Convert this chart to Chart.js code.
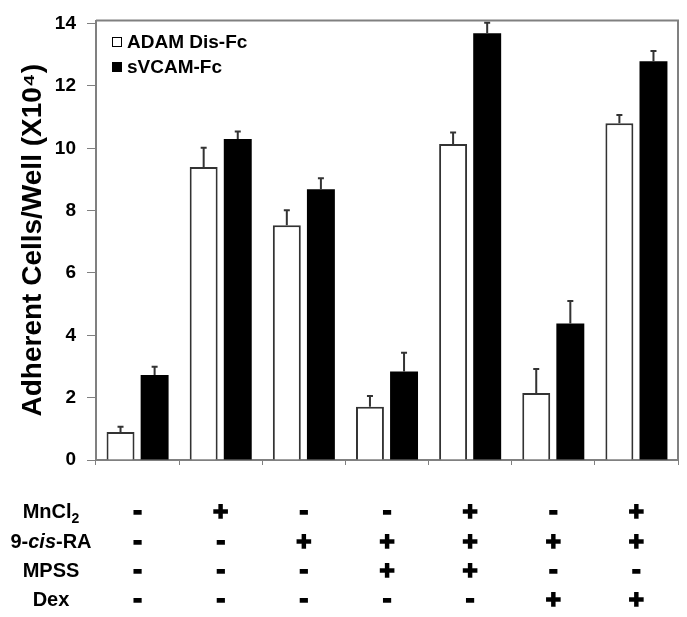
<!DOCTYPE html>
<html>
<head>
<meta charset="utf-8">
<script src="https://cdn.jsdelivr.net/npm/chart.js@4"></script>
<style>
  body { margin: 0; background: #fff; }
  canvas { display: block; }
</style>
</head>
<body>
<canvas id="myChart" width="687" height="617"></canvas>
<script>
/* data */
const categories = ['1', '2', '3', '4', '5', '6', '7'];
const seriesLabels = ['ADAM Dis-Fc', 'sVCAM-Fc'];
const adamValues = [0.9, 9.4, 7.53, 1.71, 10.14, 2.15, 10.8];
const adamErrors = [0.17, 0.62, 0.48, 0.34, 0.37, 0.77, 0.27];
const vcamValues = [2.73, 10.3, 8.69, 2.84, 13.69, 4.38, 12.79];
const vcamErrors = [0.26, 0.24, 0.35, 0.6, 0.34, 0.72, 0.33];
const yTicks = [0, 2, 4, 6, 8, 10, 12, 14];

// treatment table under the chart
const rowLabels = [
  [{ t: 'MnCl' }, { t: '2', sub: true }],
  [{ t: '9-' }, { t: 'cis', it: true }, { t: '-RA' }],
  [{ t: 'MPSS' }],
  [{ t: 'Dex' }]
];
const mncl2 = ['-', '+', '-', '-', '+', '-', '+'];
const cisRA = ['-', '-', '+', '+', '+', '+', '+'];
const mpss = ['-', '-', '-', '+', '+', '-', '-'];
const dex = ['-', '-', '-', '-', '-', '+', '+'];
const treatments = [mncl2, cisRA, mpss, dex];

const FONT = '"Liberation Sans", Arial, sans-serif';
const errorSets = [adamErrors, vcamErrors];

function drawRich(ctx, parts, cx, cy, size) {
  const fontOf = (p) => 'bold ' + (p.it ? 'italic ' : '') + (p.sub ? Math.round(size * 0.7) : size) + 'px ' + FONT;
  let w = 0;
  parts.forEach(p => { ctx.font = fontOf(p); w += ctx.measureText(p.t).width; });
  let x = cx - w / 2;
  parts.forEach(p => {
    ctx.font = fontOf(p);
    ctx.fillText(p.t, x, p.sub ? cy + size * 0.35 : cy);
    x += ctx.measureText(p.t).width;
  });
}

const extras = {
  id: 'extras',
  afterDatasetsDraw(chart) {
    const { ctx, chartArea: a, scales: { x, y } } = chart;
    ctx.save();
    // frame top + right
    ctx.strokeStyle = '#808080';
    ctx.lineWidth = 2;
    ctx.beginPath();
    ctx.moveTo(a.left, a.top);
    ctx.lineTo(a.right, a.top);
    ctx.lineTo(a.right, a.bottom);
    ctx.stroke();

    // error bars (upper only)
    ctx.strokeStyle = '#333';
    ctx.lineWidth = 2;
    chart.data.datasets.forEach((ds, di) => {
      const meta = chart.getDatasetMeta(di);
      meta.data.forEach((bar, i) => {
        const y0 = y.getPixelForValue(ds.data[i]);
        const y1 = y.getPixelForValue(ds.data[i] + errorSets[di][i]);
        ctx.beginPath();
        ctx.moveTo(bar.x, y0);
        ctx.lineTo(bar.x, y1);
        ctx.moveTo(bar.x - 3, y1);
        ctx.lineTo(bar.x + 3, y1);
        ctx.stroke();
      });
    });

    // legend inside plot
    ctx.textBaseline = 'middle';
    ctx.textAlign = 'left';
    chart.data.datasets.forEach((ds, di) => {
      const cy = 42 + di * 25;
      ctx.fillStyle = ds.backgroundColor;
      ctx.fillRect(112, cy - 5, 10, 10);
      ctx.strokeStyle = '#000';
      ctx.lineWidth = 1;
      ctx.strokeRect(112.5, cy - 4.5, 9, 9);
      ctx.fillStyle = '#000';
      ctx.font = 'bold 19px ' + FONT;
      ctx.fillText(ds.label, 127, cy + 1);
    });
    ctx.restore();
  },
  afterDraw(chart) {
    const { ctx, scales: { x } } = chart;
    const rowY = [512, 542, 571, 600];
    ctx.save();
    ctx.fillStyle = '#000';
    ctx.strokeStyle = '#000';
    ctx.textBaseline = 'middle';
    rowLabels.forEach((parts, r) => {
      ctx.textAlign = 'left';
      drawRich(ctx, parts, 51, rowY[r], 20);
      ctx.textAlign = 'center';
      ctx.font = 'bold 26px ' + FONT;
      ctx.lineWidth = 1.6;
      treatments[r].forEach((s, i) => {
        const px = x.getPixelForValue(i);
        const py = rowY[r] + (s === '+' ? 1 : 0);
        ctx.fillText(s, px, py);
        ctx.strokeText(s, px, py);
      });
    });
    ctx.restore();
  }
};

const ctx = document.getElementById('myChart');
const config = {
  type: 'bar',
  data: {
    labels: categories,
    datasets: [{
      label: seriesLabels[0],
      data: adamValues,
      backgroundColor: '#ffffff',
      borderColor: '#333333',
      borderWidth: 2,
      borderSkipped: 'bottom'
    }, {
      label: seriesLabels[1],
      data: vcamValues,
      backgroundColor: '#000000',
      borderWidth: 0
    }]
  },
  options: {
    responsive: false,
    animation: false,
    categoryPercentage: 0.82,
    barPercentage: 0.82,
    layout: { padding: { left: 0, right: 9, top: 10, bottom: 152 } },
    plugins: {
      legend: { display: false },
      tooltip: { enabled: false }
    },
    scales: {
      x: {
        ticks: { display: false },
        grid: { drawOnChartArea: false, tickLength: 5, color: '#808080', offset: true },
        border: { color: '#808080', width: 2 }
      },
      y: {
        min: 0,
        max: 14.1,
        afterBuildTicks: (s) => { s.ticks = yTicks.map(v => ({ value: v })); },
        afterFit: (s) => { s.width = 96; },
        ticks: {
          padding: 11,
          color: '#000',
          font: { family: FONT, size: 19, weight: 'bold', lineHeight: 1 }
        },
        grid: { drawOnChartArea: false, tickLength: 9, color: '#808080' },
        border: { color: '#808080', width: 2 },
        title: {
          display: true,
          text: 'Adherent Cells/Well (X10\u2074)',
          color: '#000',
          font: { family: FONT, size: 28, weight: 'bold' },
          padding: { top: 16, bottom: 0 }
        }
      }
    }
  },
  plugins: [extras]
};

const myChart = new Chart(ctx, config);
</script>
</body>
</html>
